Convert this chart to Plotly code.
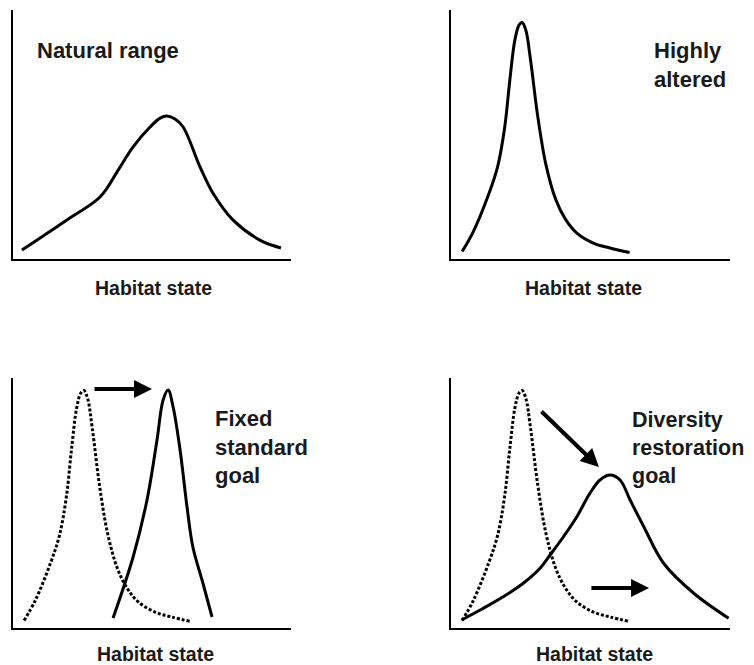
import plotly.graph_objects as go

# ---- data (habitat state 0-100, relative frequency 0-100) ----
natural_x = [3.2, 19.4, 31.3, 37.4, 43.2, 49.3, 52.9, 55.4, 58.3, 61.2, 67.3, 71.9, 79.1, 88.8, 96.4]
natural_y = [3.6, 15.7, 24.9, 34.9, 45.0, 53.0, 56.6, 57.4, 56.2, 53.0, 36.9, 26.5, 15.7, 7.6, 4.4]

altered_x = [4, 8, 13.5, 16.7, 19.2, 21.1, 22.9, 24.4, 25.5, 26.8, 28.5, 31, 34, 37.5, 41, 45, 51, 57, 64]
altered_y = [3, 11, 26, 37, 52.5, 72, 88, 94, 95, 92, 80, 58, 38, 24, 16, 10.5, 6.4, 4.4, 2.6]

fixed_x = [36, 43.2, 48.2, 51.8, 54, 55.8, 57.6, 60.1, 62.6, 64.7, 68.3, 71.6]
fixed_y = [4, 28.4, 51.2, 75.2, 91.2, 95.2, 88.4, 71.2, 48.4, 32.4, 18, 4.4]

diversity_x = [3.8, 11.6, 18.7, 25.9, 31.9, 35.5, 40.3, 45.1, 49.8, 53.4, 57.0, 60.6, 64.2, 69.1, 76.2, 87.0, 99.5]
diversity_y = [3.2, 7.9, 12.5, 17.9, 23.9, 29.2, 36.5, 44.5, 53.9, 59.2, 61.2, 59.2, 51.2, 40.5, 25.9, 13.9, 3.9]

panel_titles = ["Natural range", "Highly<br>altered", "Fixed<br>standard<br>goal", "Diversity<br>restoration<br>goal"]
axis_label = "Habitat state"

# arrows: (tail_x, tail_y, head_x, head_y) in data units
fixed_arrow = (28.8, 95.6, 50.0, 95.6)
diversity_arrows = [(31.9, 87.2, 53.0, 64.4), (49.8, 16.0, 71.0, 16.0)]

# page body has an 8px margin: figure is placed at (8, 8)
OFF = 8
W, H = 754 - OFF, 665 - OFF
def px(x):
    return (x - OFF) / W
def py(y):
    return 1 - (y - OFF) / H

panels = {
    1: ([13, 291], [10, 259]),
    2: ([451, 730], [10, 259]),
    3: ([13, 291], [378, 628]),
    4: ([451, 730], [378, 628]),
}

fig = go.Figure()
solid = dict(color="black", width=3, shape="spline", smoothing=1)
dotted = dict(color="black", width=3, shape="spline", smoothing=1, dash="3px,2px")

fig.add_trace(go.Scatter(x=natural_x, y=natural_y, mode="lines", line=solid, xaxis="x", yaxis="y"))
fig.add_trace(go.Scatter(x=altered_x, y=altered_y, mode="lines", line=solid, xaxis="x2", yaxis="y2"))
fig.add_trace(go.Scatter(x=altered_x, y=altered_y, mode="lines", line=dotted, xaxis="x3", yaxis="y3"))
fig.add_trace(go.Scatter(x=fixed_x, y=fixed_y, mode="lines", line=solid, xaxis="x3", yaxis="y3"))
fig.add_trace(go.Scatter(x=altered_x, y=altered_y, mode="lines", line=dotted, xaxis="x4", yaxis="y4"))
fig.add_trace(go.Scatter(x=diversity_x, y=diversity_y, mode="lines", line=solid, xaxis="x4", yaxis="y4"))

layout = dict(width=W, height=H, margin=dict(l=0, r=0, t=0, b=0),
              paper_bgcolor="white", plot_bgcolor="white", showlegend=False)
for i, (xd, yd) in panels.items():
    sx = "" if i == 1 else str(i)
    ax = dict(showline=True, linecolor="black", linewidth=2, showgrid=False, zeroline=False,
              showticklabels=False, ticks="", fixedrange=True)
    layout["xaxis" + sx] = dict(ax, domain=[px(xd[0]), px(xd[1])], range=[0, 100],
                                anchor="y" + sx)
    layout["yaxis" + sx] = dict(ax, domain=[py(yd[1]), py(yd[0])], range=[0, 100],
                                anchor="x" + sx)
fig.update_layout(**layout)

font_lbl = dict(family="Arial, Liberation Sans, sans-serif", size=22, color="#1a1a1a")
font_lbl2 = dict(family="Arial, Liberation Sans, sans-serif", size=21.5, color="#1a1a1a")
font_ax = dict(family="Arial, Liberation Sans, sans-serif", size=19.5, color="#1a1a1a")

def note(text, x, y, xanchor="left", font=font_lbl):
    fig.add_annotation(text=text, x=px(x), y=py(y), xref="paper", yref="paper",
                       xanchor=xanchor, yanchor="middle", align="left", showarrow=False, font=font)

note("<b>" + panel_titles[0] + "</b>", 35, 50)
note("<b>" + panel_titles[1] + "</b>", 652, 64.5)
note("<b>" + panel_titles[2] + "</b>", 213, 446.7)
note("<b>" + panel_titles[3] + "</b>", 630, 447.5, font=font_lbl2)
for (x, y) in [(153, 288), (583, 288), (155, 654), (594, 654)]:
    note("<b>" + axis_label + "</b>", x, y, xanchor="center", font=font_ax)

def arrow(a, sx):
    tx, ty, hx, hy = a
    fig.add_annotation(x=hx, y=hy, ax=tx, ay=ty, xref="x" + sx, yref="y" + sx,
                       axref="x" + sx, ayref="y" + sx, text="", showarrow=True,
                       arrowhead=2, arrowsize=0.9, arrowwidth=4, arrowcolor="black")

arrow(fixed_arrow, "3")
for a in diversity_arrows:
    arrow(a, "4")

fig.write_html("out.html")
